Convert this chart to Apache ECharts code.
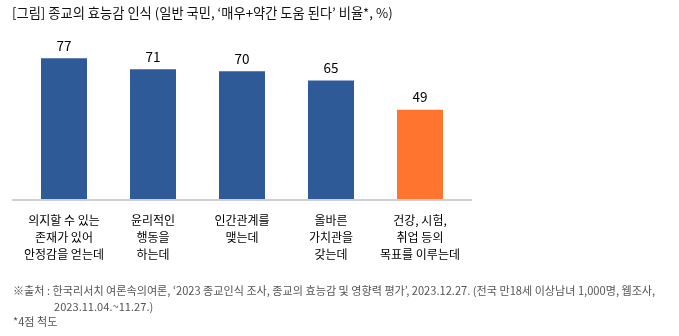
<!DOCTYPE html>
<html>
<head>
<meta charset="utf-8">
<script src="https://cdn.jsdelivr.net/npm/echarts@6/dist/echarts.min.js"></script>
<style>
html,body{margin:0;padding:0;background:#fff;}
#c{width:679px;height:336px;}
</style>
</head>
<body>
<div id="c"></div>
<script>
const categories = [
  '의지할 수 있는\n존재가 있어\n안정감을 얻는데',
  '윤리적인\n행동을\n하는데',
  '인간관계를\n맺는데',
  '올바른\n가치관을\n갖는데',
  '건강, 시험,\n취업 등의\n목표를 이루는데'
];
const values = [77, 71, 70, 65, 49];
const barColors = ['#2E5A97', '#2E5A97', '#2E5A97', '#2E5A97', '#FF7530'];
const titleText = '[그림] 종교의 효능감 인식 (일반 국민, ‘매우+약간 도움 된다’ 비율*, %)';
const sourceLine1 = '※출처 : 한국리서치 여론속의여론, ‘2023 종교인식 조사, 종교의 효능감 및 영향력 평가’, 2023.12.27. (전국 만18세 이상남녀 1,000명, 웹조사,';
const sourceLine2 = '2023.11.04.~11.27.)';
const noteText = '*4점 척도';

const FONT = '"Noto Sans CJK KR", "Noto Sans", sans-serif';
const chart = echarts.init(document.getElementById('c'), null, {renderer: 'canvas'});
chart.setOption({
  animation: false,
  textStyle: {fontFamily: FONT},
  grid: {left: 19.5, right: 214.5, top: 16, bottom: 136, containLabel: false},
  xAxis: {
    type: 'category',
    data: categories,
    axisLine: {show: false},
    axisTick: {show: false},
    axisLabel: {
      interval: 0,
      margin: 12,
      fontSize: 12,
      lineHeight: 17,
      color: '#000',
      fontFamily: FONT
    }
  },
  yAxis: {
    type: 'value',
    min: 0,
    max: 100,
    show: false,
    splitLine: {show: false}
  },
  series: [{
    type: 'bar',
    barWidth: 46,
    data: values.map((v, i) => ({value: v, itemStyle: {color: barColors[i]}})),
    label: {
      show: true,
      position: 'top',
      distance: 6,
      fontSize: 13.5,
      color: '#000',
      fontFamily: FONT
    }
  }],
  graphic: [
    {type: 'line', shape: {x1: 12, y1: 200, x2: 472, y2: 200}, style: {stroke: '#cfcfcf', lineWidth: 2}, z: 10},
    {type: 'text', left: 12, top: 6, style: {text: titleText, font: '13.25px ' + FONT, fill: '#111'}},
    {type: 'text', left: 13, top: 285, style: {text: sourceLine1, font: '11.1px ' + FONT, fill: '#555'}},
    {type: 'text', left: 54, top: 301, style: {text: sourceLine2, font: '11.1px ' + FONT, fill: '#555'}},
    {type: 'text', left: 13, top: 316, style: {text: noteText, font: '11.1px ' + FONT, fill: '#555'}}
  ]
});
</script>
</body>
</html>
